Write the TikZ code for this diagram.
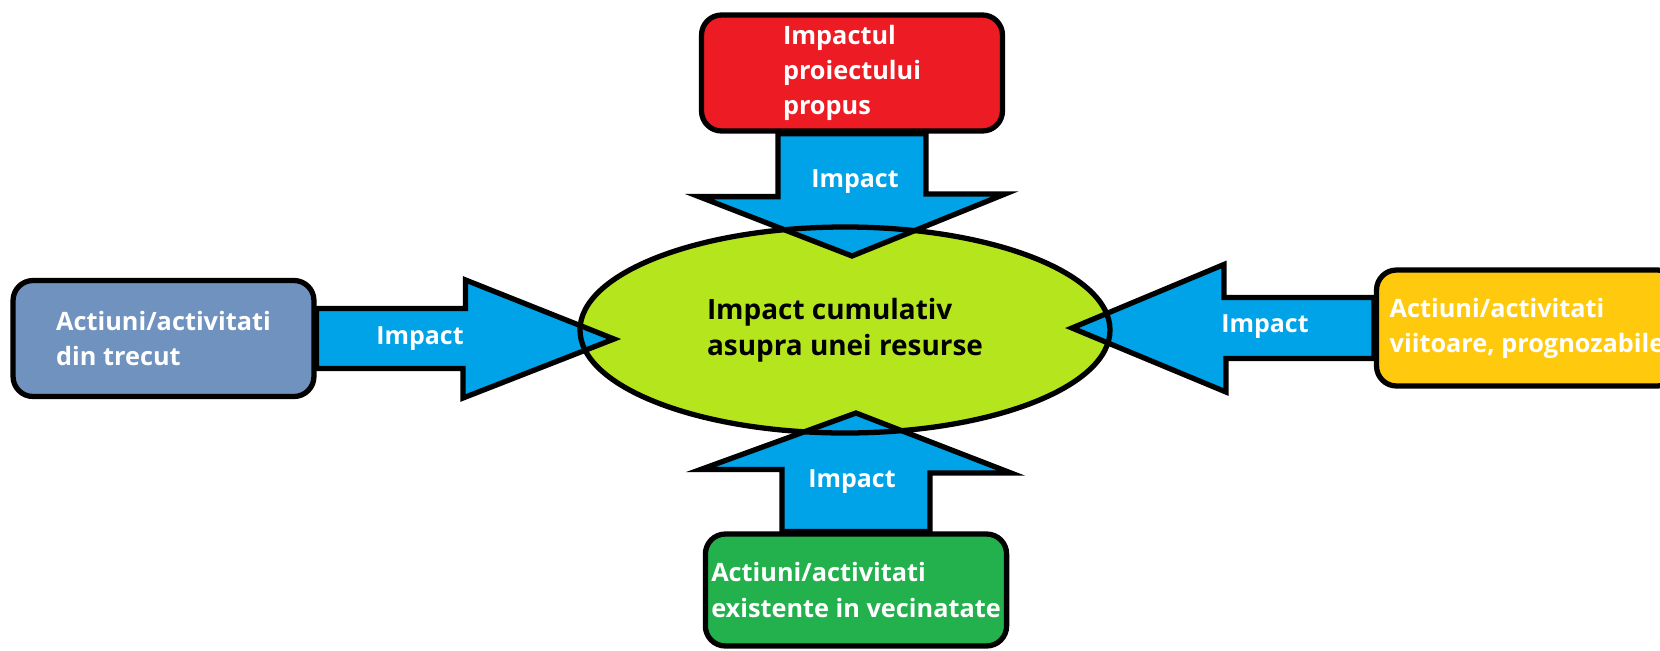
\documentclass[tikz,border=0pt]{standalone}
\usepackage{fontspec}
\setmainfont{Open Sans}
\usetikzlibrary{shapes.geometric,calc}

\definecolor{boxred}{HTML}{ED1C24}
\definecolor{boxsteel}{HTML}{7092BE}
\definecolor{boxgold}{HTML}{FFC90E}
\definecolor{boxgreen}{HTML}{22B14C}
\definecolor{impactblue}{HTML}{00A2E8}
\definecolor{reslime}{HTML}{B5E61D}

\begin{document}
\begin{tikzpicture}[
    x=0.02cm, y=-0.02cm,
    box/.style={rectangle,rounded corners=0.4cm,draw,line width=3pt,
                minimum width=6.02cm,minimum height=2.32cm,
                text=white,align=left,font=\bfseries\fontsize{14.4}{20}\selectfont},
    resource/.style={ellipse,fill=reslime,minimum width=10.6cm,minimum height=4.12cm,
                inner sep=0pt,align=left,font=\bfseries\fontsize{15.9}{20.5}\selectfont},
    impact/.style={draw=black,fill=impactblue,line width=3pt},
    tag/.style={text=white,font=\bfseries\fontsize{14.2}{20}\selectfont},
]

\fill[white] (0,0) rectangle (1660,650);
\clip (0,0) rectangle (1660,650);

% resource in the middle
\node[resource] (res) at (845,330) {Impact cumulativ\\asupra unei resurse};

% sources of impact
\node[box,fill=boxred] (proj) at (852,73) {Impactul\\proiectului\\propus};
\node[box,fill=boxsteel] (past) at (163.5,338.5) {Actiuni/activitati\\din trecut};
\node[box,fill=boxgold] (future) at (1527,328) {Actiuni/activitati\\viitoare, prognozabile};
\node[box,fill=boxgreen,minimum height=2.24cm] (near) at (856,590)
    {Actiuni/activitati\\existente in vecinatate};

% arrow tips
\coordinate (tipN) at (852,256);
\coordinate (tipS) at (856,413);
\coordinate (tipW) at (614,339);
\coordinate (tipE) at (1072,328);

\draw[impact] ($(proj.south)+(-74,0)$) -- ++(0,63) -- ++(-79,0) -- (tipN)
              -- ++(153,-62) -- ++(-79,0) -- ($(proj.south)+(74,0)$) -- cycle;
\draw[impact] ($(near.north)+(-74,0)$) -- ++(0,-62) -- ++(-81,0) -- (tipS)
              -- ++(155,60) -- ++(-81,0) -- ($(near.north)+(74,0)$) -- cycle;
\draw[impact] ($(past.east)+(0,-30)$) -- ++(149,0) -- ++(0,-28.5) -- (tipW)
              -- ++(-151,59) -- ++(0,-29.5) -- ($(past.east)+(0,30)$) -- cycle;
\draw[impact] ($(future.west)+(0,-30.5)$) -- ++(-150,0) -- ++(0,-33) -- (tipE)
              -- ++(154,64) -- ++(0,-33.5) -- ($(future.west)+(0,30.5)$) -- cycle;

% outline of the resource over the tips
\draw[line width=3pt] (res.center) ellipse [x radius=265,y radius=103];

\node[tag] (tagN) at (855,182) {Impact};
\node[tag] (tagW) at (420,339) {Impact};
\node[tag] (tagE) at (1265,327) {Impact};
\node[tag] (tagS) at (852,482) {Impact};

\end{tikzpicture}
\end{document}
